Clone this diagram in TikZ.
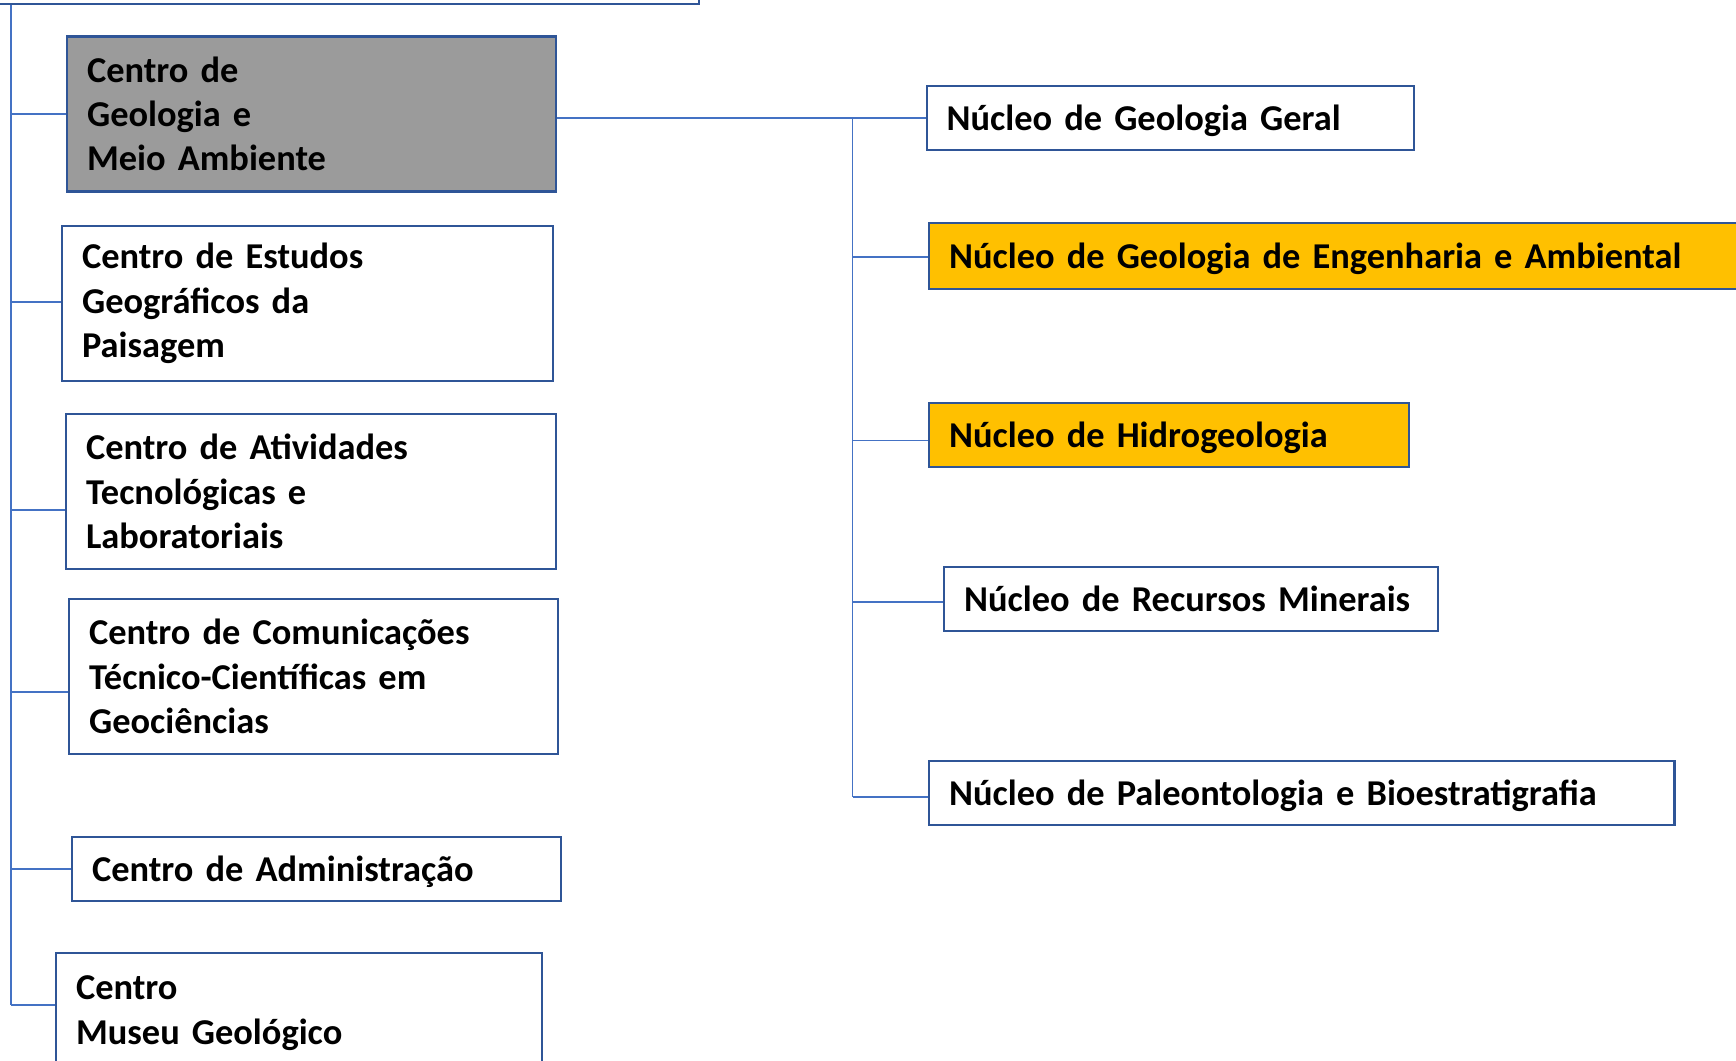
\documentclass[tikz,border=0pt]{standalone}
\usepackage{fontspec}
\setmainfont{Carlito}
\usetikzlibrary{calc}
\definecolor{cBorda}{HTML}{2F5597}
\definecolor{cFio}{HTML}{4472C4}
\definecolor{cCinza}{HTML}{9B9B9B}
\definecolor{cAmarelo}{HTML}{FFC000}

\begin{document}
\begin{tikzpicture}[
    x=0.01cm, y=-0.01cm, font=\bfseries\fontsize{10.35}{12.6}\selectfont,
    caixa/.style={draw=cBorda, line width=0.6pt, fill=white, inner xsep=0.2cm,
                  inner ysep=0pt, align=left, anchor=west},
    cinza/.style={caixa, fill=cCinza},
    amarela/.style={caixa, fill=cAmarelo},
    linha/.style={text depth=0pt},
    fio/.style={draw=cFio, line width=0.4pt},
]
\useasboundingbox (0,0) rectangle (1736,1061);
\clip (0,0) rectangle (1736,1061);

% ===================== Caixa de cima (cortada) =====================
\node[caixa, anchor=south east, minimum width=9cm, minimum height=1cm] (topo) at (700,5.5) {};

% ===================== Centros (esquerda) =====================
\node[cinza, text width=4.49cm, minimum height=1.55cm] (cgma) at (66,114)
      {Centro de\\Geologia e\\Meio Ambiente};
\node[caixa, text width=4.51cm, minimum height=1.55cm] (cegp) at (61,303.5)
      {Centro de Estudos\\Geográficos da\\Paisagem};
\node[caixa, text width=4.50cm, minimum height=1.55cm] (catl) at (65,491.5)
      {Centro de Atividades\\Tecnológicas e\\Laboratoriais};
\node[caixa, text width=4.49cm, minimum height=1.55cm] (cctg) at (68,676.5)
      {Centro de Comunicações\\Técnico-Científicas em\\Geociências};
\node[caixa, linha, text width=4.49cm, minimum height=0.64cm] (cadm) at (71,869)
      {Centro de Administração};
\node[caixa, text width=4.46cm, minimum height=1.2cm] (cmus) at (55,1013)
      {Centro\\Museu Geológico};

% ===================== Núcleos (direita) =====================
\node[caixa, linha, text width=4.47cm, minimum height=0.645cm] (ngg) at (925.5,118)
      {Núcleo de Geologia Geral};
\node[amarela, linha, text width=7.92cm, minimum height=0.655cm] (ngea) at (928,256)
      {Núcleo de Geologia de Engenharia e Ambiental};
\node[amarela, linha, text width=4.40cm, minimum height=0.64cm] (nhid) at (928,435)
      {Núcleo de Hidrogeologia};
\node[caixa, linha, text width=4.54cm, minimum height=0.64cm] (nrm) at (943,599)
      {Núcleo de Recursos Minerais};
\node[caixa, linha, text width=7.05cm, minimum height=0.64cm] (npb) at (928,793)
      {Núcleo de Paleontologia e Bioestratigrafia};

% ===================== Ligações da esquerda =====================
\coordinate (e1) at (11,114);
\coordinate (e2) at (11,302);
\coordinate (e3) at (11,510);
\coordinate (e4) at (11,692);
\coordinate (e5) at (11,869);
\coordinate (e6) at (11,1005);
\draw[fio] (topo.south -| e6) -- (e6);
\foreach \p/\n in {e1/cgma,e2/cegp,e3/catl,e4/cctg,e5/cadm,e6/cmus}{
    \draw[fio] (\p) -- (\p -| \n.west);
}

% ===================== Ligações da direita =====================
\coordinate (d2) at (852.5,257);
\coordinate (d3) at (852.5,440.6);
\coordinate (d4) at (852.5,602);
\coordinate (d5) at (852.5,797);
\draw[fio] (ngg.west -| cgma.east) -- (ngg.west);
\draw[fio] (ngg.west -| d5) -- (d5);
\foreach \p/\n in {d2/ngea,d3/nhid,d4/nrm,d5/npb}{
    \draw[fio] (\p) -- (\p -| \n.west);
}

\end{tikzpicture}
\end{document}
